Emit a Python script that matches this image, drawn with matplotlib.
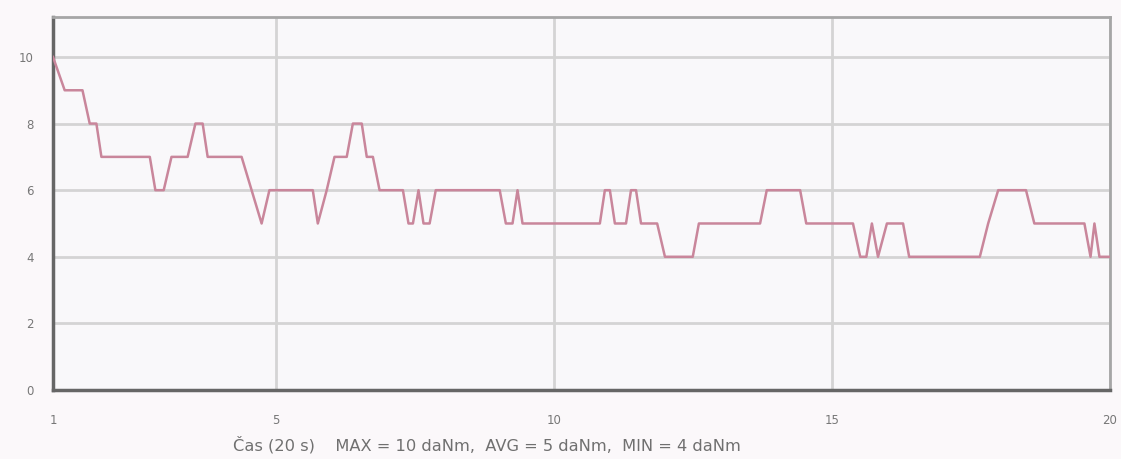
import matplotlib.pyplot as plt

# torque trace over the 20 s run (corner points of the recorded curve)
time_s = [1.00, 1.21, 1.53, 1.66, 1.78, 1.87, 2.74, 2.84, 2.99, 3.13,
          3.42, 3.56, 3.69, 3.78, 4.39, 4.57, 4.75, 4.89, 5.67, 5.76,
          5.92, 6.06, 6.28, 6.39, 6.55, 6.64, 6.75, 6.87, 7.29, 7.39,
          7.47, 7.57, 7.66, 7.77, 7.88, 9.03, 9.14, 9.26, 9.35, 9.44,
          10.83, 10.92, 11.01, 11.10, 11.30, 11.39, 11.48, 11.57, 11.86, 12.00,
          12.50, 12.61, 13.71, 13.83, 14.43, 14.54, 15.38, 15.51, 15.62, 15.72,
          15.83, 15.99, 16.28, 16.39, 17.66, 17.81, 17.99, 18.49, 18.64, 19.54,
          19.65, 19.72, 19.81, 20.00]
torque = [10, 9, 9, 8, 8, 7, 7, 6, 6, 7,
          7, 8, 8, 7, 7, 6, 5, 6, 6, 5,
          6, 7, 7, 8, 8, 7, 7, 6, 6, 5,
          5, 6, 5, 5, 6, 6, 5, 5, 6, 5,
          5, 6, 6, 5, 5, 6, 6, 5, 5, 4,
          4, 5, 5, 6, 6, 5, 5, 4, 4, 5,
          4, 5, 5, 4, 4, 5, 6, 6, 5, 5,
          4, 5, 4, 4]

x_ticks = [1, 5, 10, 15, 20]
y_ticks = [0, 2, 4, 6, 8, 10]
summary = 'Čas (20 s)    MAX = 10 daNm,  AVG = 5 daNm,  MIN = 4 daNm'

fig = plt.figure(figsize=(11.21, 4.59), dpi=100, facecolor='#fbf8fa')
ax = fig.add_axes([53 / 1121, 69 / 459, 1057 / 1121, 373 / 459])
ax.set_facecolor('#f9f8fa')

ax.plot(time_s, torque, color='#c9869b', lw=1.8, zorder=3)

ax.set_xlim(1, 20)
ax.set_ylim(0, 11.2)
ax.set_xticks(x_ticks)
ax.set_yticks(y_ticks)
ax.grid(True, color='#d4d4d4', lw=2)
ax.set_axisbelow(True)
ax.tick_params(length=0, labelsize=8.5, labelcolor='#777777')
ax.tick_params(axis='y', pad=14)
ax.tick_params(axis='x', pad=17)

for side in ['left', 'bottom']:
    ax.spines[side].set_color('#666666')
    ax.spines[side].set_linewidth(2.5)
for side in ['top', 'right']:
    ax.spines[side].set_color('#a6a6a6')
    ax.spines[side].set_linewidth(2)

fig.text(233 / 1121, 1 - 445 / 459, summary, ha='left', va='center',
         fontsize=11.7, color='#707070')

fig.savefig('out.png', dpi=100, facecolor=fig.get_facecolor())
